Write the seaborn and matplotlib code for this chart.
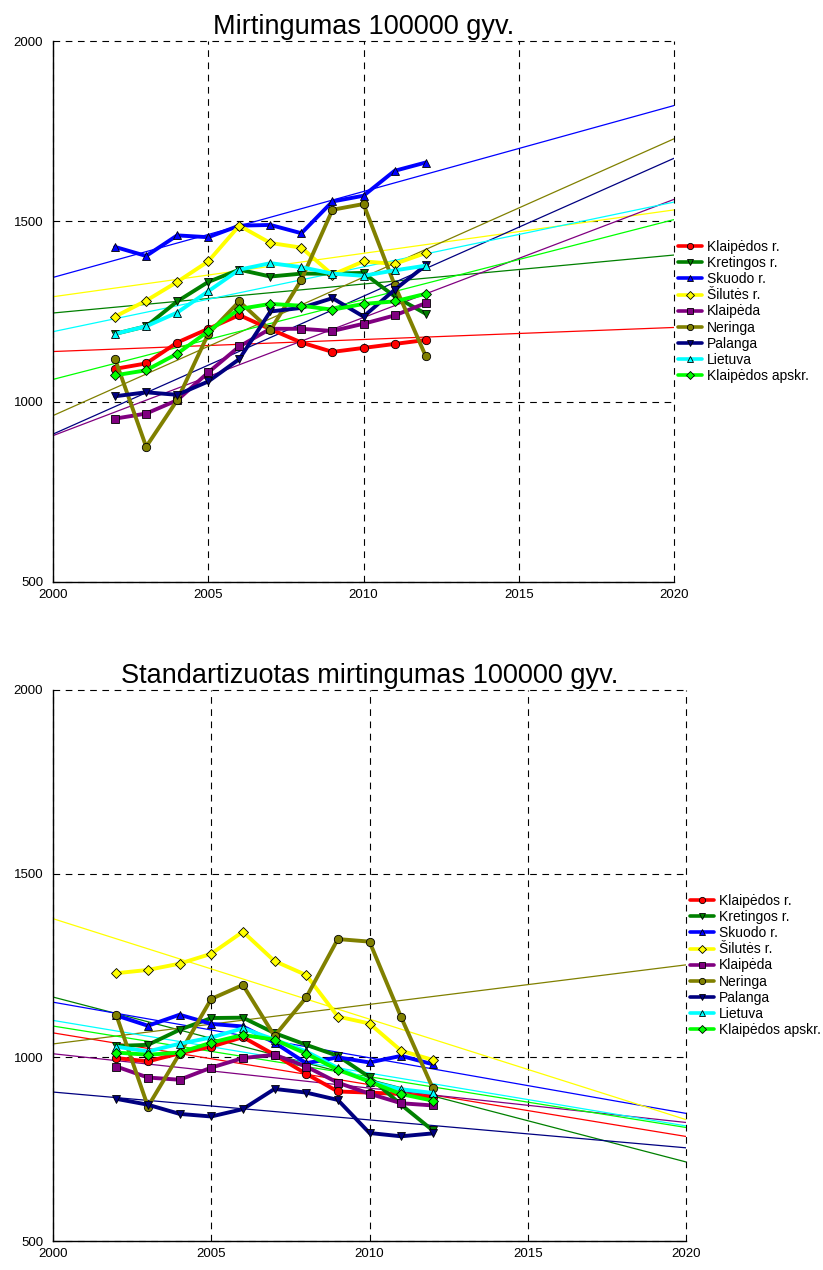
import numpy as np
import pandas as pd
import matplotlib
matplotlib.use("Agg")
import matplotlib.pyplot as plt
from matplotlib.ticker import MultipleLocator
import seaborn as sns

years = [2002, 2003, 2004, 2005, 2006, 2007, 2008, 2009, 2010, 2011, 2012]

series_names = ["Klaipėdos r.", "Kretingos r.", "Skuodo r.", "Šilutės r.", "Klaipėda",
                "Neringa", "Palanga", "Lietuva", "Klaipėdos apskr."]
series_colors = ["#FF0000", "#008000", "#0000FF", "#FFFF00", "#800080",
                 "#808000", "#000080", "#00FFFF", "#00FF00"]
series_markers = ["o", "v", "^", "D", "s", "o", "v", "^", "D"]

# Top chart: Mirtingumas 100000 gyv.
klaipedos_r_top = [1091, 1106, 1164, 1202, 1240, 1201, 1164, 1138, 1149, 1160, 1171]
kretingos_top = [1188, 1209, 1278, 1332, 1366, 1347, 1355, 1355, 1357, 1292, 1244]
skuodo_top = [1429, 1404, 1461, 1456, 1488, 1490, 1467, 1555, 1571, 1640, 1663]
silutes_top = [1236, 1280, 1332, 1389, 1488, 1440, 1427, 1352, 1389, 1382, 1412]
klaipeda_top = [953, 967, 1004, 1081, 1153, 1202, 1202, 1196, 1216, 1239, 1273]
neringa_top = [1118, 875, 1004, 1188, 1278, 1198, 1338, 1532, 1548, 1324, 1127]
palanga_top = [1015, 1026, 1019, 1056, 1118, 1250, 1260, 1287, 1236, 1310, 1378]
lietuva_top = [1188, 1209, 1247, 1306, 1366, 1384, 1373, 1355, 1349, 1364, 1377]
apskr_top = [1073, 1087, 1133, 1195, 1257, 1271, 1266, 1255, 1271, 1278, 1299]

# Bottom chart: Standartizuotas mirtingumas 100000 gyv.
klaipedos_r_bot = [998, 989, 1011, 1029, 1055, 1007, 955, 907, 904, 900, 892]
kretingos_bot = [1031, 1034, 1075, 1107, 1108, 1066, 1034, 1004, 946, 871, 801]
skuodo_bot = [1114, 1086, 1116, 1091, 1084, 1040, 984, 1000, 986, 1004, 981]
silutes_bot = [1229, 1238, 1255, 1282, 1342, 1262, 1224, 1111, 1092, 1018, 993]
klaipeda_bot = [975, 945, 939, 972, 998, 1007, 975, 931, 901, 875, 869]
neringa_bot = [1115, 866, 1010, 1159, 1197, 1058, 1163, 1322, 1315, 1109, 916]
palanga_bot = [887, 871, 846, 839, 859, 914, 904, 884, 794, 785, 793]
lietuva_bot = [1029, 1016, 1037, 1054, 1079, 1048, 1016, 971, 934, 913, 903]
apskr_bot = [1013, 1007, 1013, 1040, 1061, 1048, 1010, 966, 934, 900, 882]

top_series = [klaipedos_r_top, kretingos_top, skuodo_top, silutes_top, klaipeda_top,
              neringa_top, palanga_top, lietuva_top, apskr_top]
bot_series = [klaipedos_r_bot, kretingos_bot, skuodo_bot, silutes_bot, klaipeda_bot,
              neringa_bot, palanga_bot, lietuva_bot, apskr_bot]

x_ticks = [2000, 2005, 2010, 2015, 2020]
y_ticks = [500, 1000, 1500, 2000]

sns.set_style("white")
plt.rcParams["font.family"] = ["Liberation Sans", "DejaVu Sans"]
plt.rcParams["text.color"] = "black"

fig = plt.figure(figsize=(8.23, 12.70), dpi=100)
ax_top = fig.add_axes([53 / 823, 1 - 582 / 1270, 621 / 823, 541 / 1270])
ax_bot = fig.add_axes([53 / 823, 1 - 1241 / 1270, 633 / 823, 551 / 1270])


def draw(ax, data, title):
    ax.set_xlim(2000, 2020)
    ax.set_ylim(500, 2000)
    # trend lines (linear regression, extended to the axis limits)
    for vals, col in zip(data, series_colors):
        sns.regplot(x=np.array(years, dtype=float), y=np.array(vals, dtype=float),
                    scatter=False, ci=None, truncate=False, ax=ax,
                    line_kws=dict(color=col, linewidth=0.9, zorder=2))
    ax.set_xlim(2000, 2020)
    ax.set_ylim(500, 2000)
    for vals, name, col, mk in zip(data, series_names, series_colors, series_markers):
        df = pd.DataFrame({"year": years, "value": vals})
        sns.lineplot(data=df, x="year", y="value", ax=ax, color=col, linewidth=2.8,
                     marker=mk, markersize=6 if mk != "D" else 5,
                     markeredgecolor="black", markeredgewidth=0.6,
                     label=name, zorder=3)
    ax.set_xlim(2000, 2020)
    ax.set_ylim(500, 2000)
    ax.set_xlabel("")
    ax.set_ylabel("")
    ax.set_xticks(x_ticks)
    ax.set_yticks(y_ticks)
    ax.xaxis.set_minor_locator(MultipleLocator(1))
    ax.yaxis.set_minor_locator(MultipleLocator(100))
    ax.grid(True, which="major", color="black", linestyle=(0, (6, 5)), linewidth=0.8)
    for gl in ax.get_xgridlines() + ax.get_ygridlines():
        gl.set_clip_on(False)
    ax.set_axisbelow(True)
    for s in ["top", "right"]:
        ax.spines[s].set_visible(False)
    for s in ["left", "bottom"]:
        ax.spines[s].set_color("black")
        ax.spines[s].set_linewidth(1.0)
    ax.tick_params(axis="x", which="major", direction="out", length=3, width=0.8,
                   labelsize=9.5, pad=2, colors="black")
    ax.tick_params(axis="x", which="minor", direction="in", length=4, width=0.8, colors="black")
    ax.tick_params(axis="y", which="major", direction="out", length=6, width=0.8,
                   labelsize=9.5, pad=1, colors="black")
    ax.tick_params(axis="y", which="minor", direction="out", length=3, width=0.8, colors="black")
    ax.set_title(title, fontsize=19.5, pad=5, color="black")
    leg = ax.legend(loc="center left", bbox_to_anchor=(1.0, 0.5), frameon=False,
                    fontsize=10, handlelength=1.7, handletextpad=0.4,
                    labelspacing=0.15, borderaxespad=0.2, borderpad=0.1)
    for t in leg.get_texts():
        t.set_color("black")
    for ln in leg.get_lines():
        ln.set_linewidth(2.6)
        ln.set_markersize(4.5)
        ln.set_markeredgewidth(0.6)


draw(ax_top, top_series, "Mirtingumas 100000 gyv.")
draw(ax_bot, bot_series, "Standartizuotas mirtingumas 100000 gyv.")

fig.savefig("out.png", dpi=100)
